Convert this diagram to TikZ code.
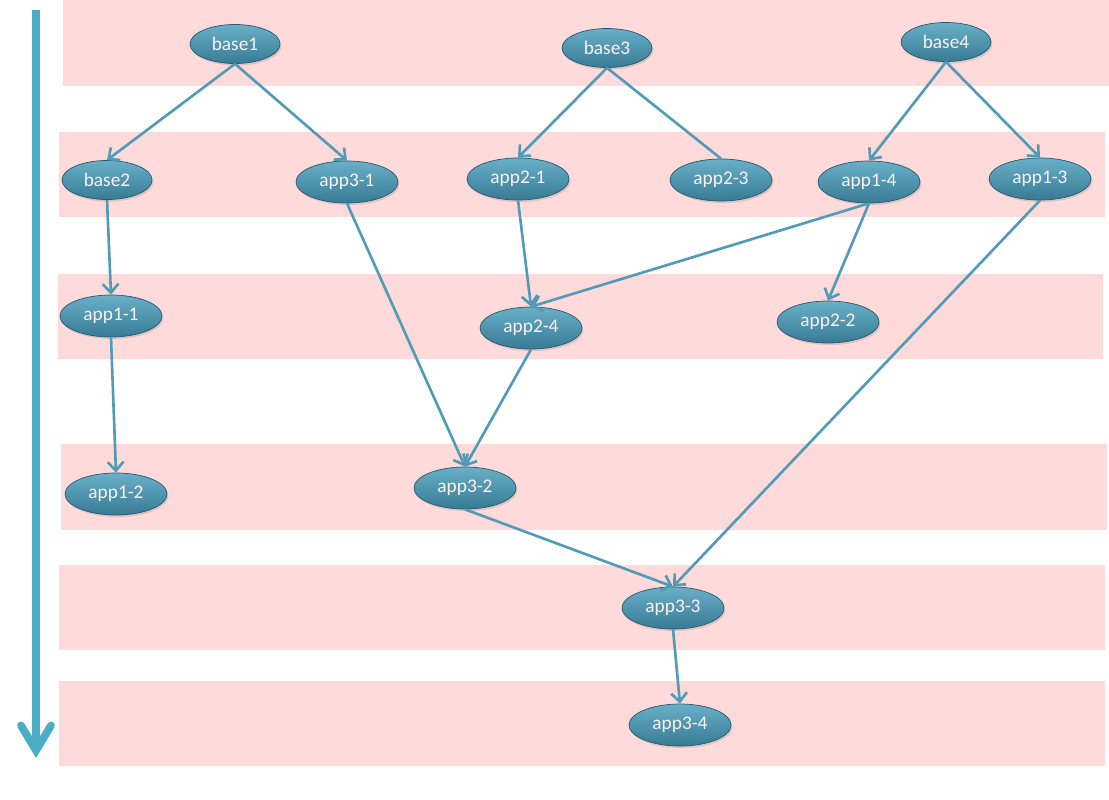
\documentclass[tikz,border=0pt]{standalone}
\usepackage{fontspec}
\setmainfont{Carlito}
\usepackage{tikz}
\usetikzlibrary{positioning, arrows.meta, shapes.geometric, shadows, backgrounds}
\definecolor{bandpink}{RGB}{255,218,218}
\definecolor{nodetop}{RGB}{104,176,200}
\definecolor{nodebot}{RGB}{56,122,148}
\definecolor{nodeline}{RGB}{38,88,110}
\definecolor{edgeblue}{RGB}{80,155,182}
\definecolor{timeblue}{RGB}{75,172,198}

\begin{document}
\begin{tikzpicture}[
    pkg/.style={ellipse, draw=nodeline, thin,
                top color=nodetop, bottom color=nodebot,
                minimum width=2.04cm, minimum height=0.84cm,
                inner sep=1pt, text=white!94!red,
                font=\fontsize{11}{13}\selectfont,
                drop shadow={opacity=0.25, shadow xshift=0.8pt, shadow yshift=-1.2pt}},
    basepkg/.style={pkg, minimum width=1.8cm, minimum height=0.78cm},
    dep/.style={-{Straight Barb[length=5pt, width=9pt]}, line width=1.5pt, color=edgeblue},
    depnotip/.style={line width=1.5pt, color=edgeblue},
    timeline/.style={-{Straight Barb[length=0.5cm, width=0.6cm, line cap=round]},
                line width=4.4pt, color=timeblue}]

  \useasboundingbox (0,0) rectangle (22.18,-16);

  %--- Fila 1: bases ---
  \node[basepkg] (base1) at (4.70,  -0.88) {base1};
  \node[basepkg] (base3) at (12.14, -0.96) {base3};
  \node[basepkg] (base4) at (18.92, -0.84) {base4};

  %--- Fila 2 ---
  \node[basepkg] (base2) at (2.14,  -3.60) {base2};
  \node[pkg]     (app31) at (6.94,  -3.64) {app3-1};
  \node[pkg]     (app21) at (10.36, -3.58) {app2-1};
  \node[pkg]     (app23) at (14.42, -3.60) {app2-3};
  \node[pkg]     (app14) at (17.38, -3.64) {app1-4};
  \node[pkg]     (app13) at (20.80, -3.58) {app1-3};

  %--- Fila 3 ---
  \node[pkg] (app11) at (2.22,  -6.32) {app1-1};
  \node[pkg] (app24) at (10.62, -6.56) {app2-4};
  \node[pkg] (app22) at (16.56, -6.44) {app2-2};

  %--- Fila 4 ---
  \node[pkg] (app12) at (2.32, -9.88) {app1-2};
  \node[pkg] (app32) at (9.30, -9.76) {app3-2};

  %--- Filas 5 y 6 ---
  \node[pkg] (app33) at (13.46, -12.16) {app3-3};
  \node[pkg] (app34) at (13.60, -14.50) {app3-4};

  %--- Dependencias ---
  \draw[dep] (base1.south) -- (base2.north);
  \draw[dep] (base1.south) -- (app31.north);
  \draw[dep] (base3.south) -- (app21.north);
  \draw[depnotip] (base3.south) -- (app23.north);
  \draw[dep] (base4.south) -- (app14.north);
  \draw[dep] (base4.south) -- (app13.north);
  \draw[dep] (base2.south) -- (app11.north);
  \draw[dep] (app11.south) -- (app12.north);
  \draw[dep] (app21.south) -- (app24.north);
  \draw[dep] (app14.south) -- (app24.north);
  \draw[dep] (app14.south) -- (app22.north);
  \draw[dep] (app31.south) -- (app32.north);
  \draw[dep] (app24.south) -- (app32.north);
  \draw[dep] (app32.south) -- (app33.north);
  \draw[dep] (app13.south) -- (app33.north);
  \draw[dep] (app33.south) -- (app34.north);

  %--- Eje de tiempo ---
  \coordinate (tstart) at (0.72, -0.20);
  \coordinate (tend)   at (0.72, -15.16);
  \draw[timeline] (tstart) -- (tend);

  %--- Franjas de fondo ---
  \begin{pgfonlayer}{background}
    \fill[bandpink] (1.26,  0.00) rectangle (22.18, -1.72);
    \fill[bandpink] (1.18, -2.64) rectangle (22.10, -4.34);
    \fill[bandpink] (1.16, -5.48) rectangle (22.06, -7.18);
    \fill[bandpink] (1.22, -8.88) rectangle (22.14, -10.60);
    \fill[bandpink] (1.18, -11.30) rectangle (22.10, -13.00);
    \fill[bandpink] (1.18, -13.62) rectangle (22.10, -15.32);
  \end{pgfonlayer}
\end{tikzpicture}
\end{document}
